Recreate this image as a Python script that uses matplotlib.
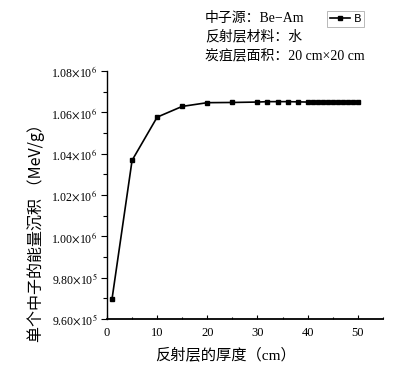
import matplotlib
matplotlib.use("Agg")
import matplotlib.pyplot as plt
from matplotlib.ticker import FixedLocator, MultipleLocator

plt.rcParams['mathtext.fontset'] = 'stix'

thickness = [1, 5, 10, 15, 20, 25, 30, 32, 34, 36, 38, 40, 41, 42, 43, 44, 45, 46, 47, 48, 49, 50]
energy = [9.697e5, 1.0368e6, 1.0577e6, 1.0629e6, 1.0647e6, 1.0648e6, 1.0650e6, 1.0652e6,
          1.0652e6, 1.0652e6, 1.0651e6, 1.0650e6, 1.0650e6, 1.0650e6, 1.0650e6, 1.0650e6,
          1.0650e6, 1.0650e6, 1.0650e6, 1.0650e6, 1.0650e6, 1.0650e6]
yticks = [9.60e5, 9.80e5, 1.00e6, 1.02e6, 1.04e6, 1.06e6, 1.08e6]
ytick_labels = [r'9.60$\times$10$^{5}$', r'9.80$\times$10$^{5}$', r'1.00$\times$10$^{6}$',
                r'1.02$\times$10$^{6}$', r'1.04$\times$10$^{6}$', r'1.06$\times$10$^{6}$',
                r'1.08$\times$10$^{6}$']
xticks = [0, 10, 20, 30, 40, 50]
series_name = 'B'
info_lines = ['中子源：Be−Am', '反射层材料：水', '炭疽层面积：20 cm×20 cm']
xlabel = '反射层的厚度（cm）'
ylabel = '单个中子的能量沉积 （MeV/g）'

serif_cjk = ['Liberation Serif', 'Noto Sans CJK SC']
sans_cjk = ['Noto Sans CJK SC', 'DejaVu Sans']

fig = plt.figure(figsize=(3.94, 3.74), dpi=100)
ax = fig.add_axes([0.2716, 0.147, 0.700, 0.663])

line, = ax.plot(thickness, energy, color='black', lw=1.2, marker='s', ms=3.2,
                label=series_name)

ax.set_xlim(0, 55)
ax.set_ylim(9.60e5, 1.08e6)
ax.spines['top'].set_visible(False)
ax.spines['right'].set_visible(False)
ax.spines['left'].set_linewidth(1.0)
ax.spines['bottom'].set_linewidth(1.3)

ax.yaxis.set_major_locator(FixedLocator(yticks))
ax.set_yticklabels(ytick_labels, fontsize=8.5, family='Liberation Serif')
ax.yaxis.set_minor_locator(MultipleLocator(1e4))
ax.tick_params(axis='y', which='major', direction='out', length=4, width=0.8, pad=3)
ax.tick_params(axis='y', which='minor', direction='out', length=3, width=0.8)

ax.xaxis.set_major_locator(FixedLocator(xticks))
ax.set_xticklabels([str(v) for v in xticks], fontsize=9, family='Liberation Serif')
ax.xaxis.set_minor_locator(MultipleLocator(5))
ax.tick_params(axis='x', which='major', direction='in', length=3, width=0.8, pad=6)
ax.tick_params(axis='x', which='minor', direction='in', length=1.5, width=0.8)

ax.set_xlabel(xlabel, fontsize=11, family=serif_cjk)
ax.xaxis.set_label_coords(0.43, -0.115)
ax.set_ylabel(ylabel, fontsize=11.5, family=sans_cjk)
ax.yaxis.set_label_coords(-0.225, 0.363)

for i, t in enumerate(info_lines):
    fig.text(205 / 394, 1 - (18 + i * 19) / 374, t, fontsize=10, family=serif_cjk,
             ha='left', va='center')

leg = fig.legend(handles=[line], loc='upper right', bbox_to_anchor=(364 / 394, 1 - 11 / 374),
                 fontsize=8, frameon=True, fancybox=False, handlelength=1.8,
                 borderpad=0.25, handletextpad=0.3, borderaxespad=0)
leg.get_frame().set_edgecolor('#999999')
leg.get_frame().set_linewidth(0.6)

fig.savefig('out.png', dpi=100)
